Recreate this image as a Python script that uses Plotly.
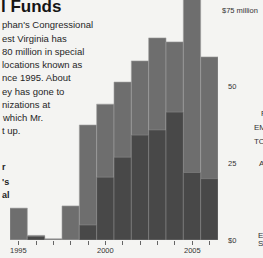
import plotly.graph_objects as go

years = [1995, 1996, 1997, 1998, 1999, 2000, 2001, 2002, 2003, 2004, 2005, 2006]
total_earmarks = [10.4, 1.5, 0.4, 11.1, 37.5, 44.3, 51.5, 58.4, 65.9, 64.6, 80.0, 59.7]
to_affiliated = [0, 1.2, 0, 0, 4.9, 20.5, 27.0, 34.2, 35.9, 41.7, 22.0, 20.0]
y_tick_vals = [75, 50, 25, 0]
y_tick_text = ["$75 million", "50", "25", "$0"]
x_label_years = [1995, 2000, 2005]
x_label_text = ["1995", "2000", "2005"]

para_lines = ["phan's Congressional", "est Virginia has", "80 million in special",
              "locations known as", "nce 1995. About", "ey has gone to",
              "nizations at", "which Mr.", "t up."]
left_frags = ["r", "'s", "al"]
right_frags = ["F", "EM", "TO", "A", "E", "S"]

W, H = 263, 258
L, R, T, B = 10, 45, 0, 18
PW, PH = W - L - R, H - T - B

def px(x):
    return (x - L) / PW

def py(y):
    return (H - B - y) / PH

fig = go.Figure()
fig.add_trace(go.Bar(x=years, y=total_earmarks, marker=dict(color="#6e6e6e", line=dict(color="#a0a0a0", width=0.6)),
                     width=1.0, showlegend=False))
fig.add_trace(go.Bar(x=years, y=to_affiliated, marker=dict(color="#484848", line=dict(color="#909090", width=0.5)),
                     width=1.0, showlegend=False))

font = "Liberation Sans, Arial, sans-serif"
ann = []
ann.append(dict(text="<b>l Funds</b>", x=px(-1), y=py(6), xref="paper", yref="paper",
                xanchor="left", yanchor="middle", showarrow=False,
                font=dict(family=font, size=17, color="#151515")))
for i, t in enumerate(para_lines):
    ann.append(dict(text=t, x=px(0), y=py(25 + 13.2 * i), xref="paper", yref="paper",
                    xanchor="left", yanchor="middle", showarrow=False,
                    font=dict(family=font, size=9.5, color="#262626")))
for t, yy in zip(left_frags, [167, 182, 195]):
    ann.append(dict(text="<b>" + t + "</b>", x=px(0), y=py(yy), xref="paper", yref="paper",
                    xanchor="left", yanchor="middle", showarrow=False,
                    font=dict(family=font, size=9, color="#222")))
for t, xx, yy in zip(right_frags, [259, 252, 252, 257, 256, 256], [113, 127, 141, 163, 235, 243]):
    ann.append(dict(text=t, x=px(xx), y=py(yy), xref="paper", yref="paper",
                    xanchor="left", yanchor="middle", showarrow=False,
                    font=dict(family=font, size=8, color="#333")))
for v, t in zip(y_tick_vals, y_tick_text):
    ann.append(dict(text=t, x=px(220 if v == 75 else 226), y=v, xref="paper", yref="y",
                    xanchor="left", yanchor="middle", showarrow=False,
                    font=dict(family=font, size=7.5, color="#333")))
for yr, t in zip(x_label_years, x_label_text):
    ann.append(dict(text=t, x=yr, y=py(250), xref="x", yref="paper",
                    xanchor="center", yanchor="middle", showarrow=False,
                    font=dict(family=font, size=7.5, color="#333")))

fig.update_layout(
    width=W, height=H, margin=dict(l=L, r=R, t=T, b=B),
    paper_bgcolor="#f4f4f2", plot_bgcolor="rgba(0,0,0,0)",
    barmode="overlay", bargap=0, annotations=ann, hovermode=False,
    xaxis=dict(range=[1994.5, 2006.5], tickvals=years, showticklabels=False,
               ticks="outside", ticklen=4, tickcolor="#666", tickwidth=1,
               showgrid=False, zeroline=False, showline=False, fixedrange=True),
    yaxis=dict(range=[0, 240 / (230 / 75)], showticklabels=False, showgrid=False,
               zeroline=False, showline=False, ticks="", fixedrange=True),
)
fig.write_html("out.html", config={"displayModeBar": False, "staticPlot": True},
               post_script="document.body.style.margin='0';document.body.style.overflow='hidden';")
